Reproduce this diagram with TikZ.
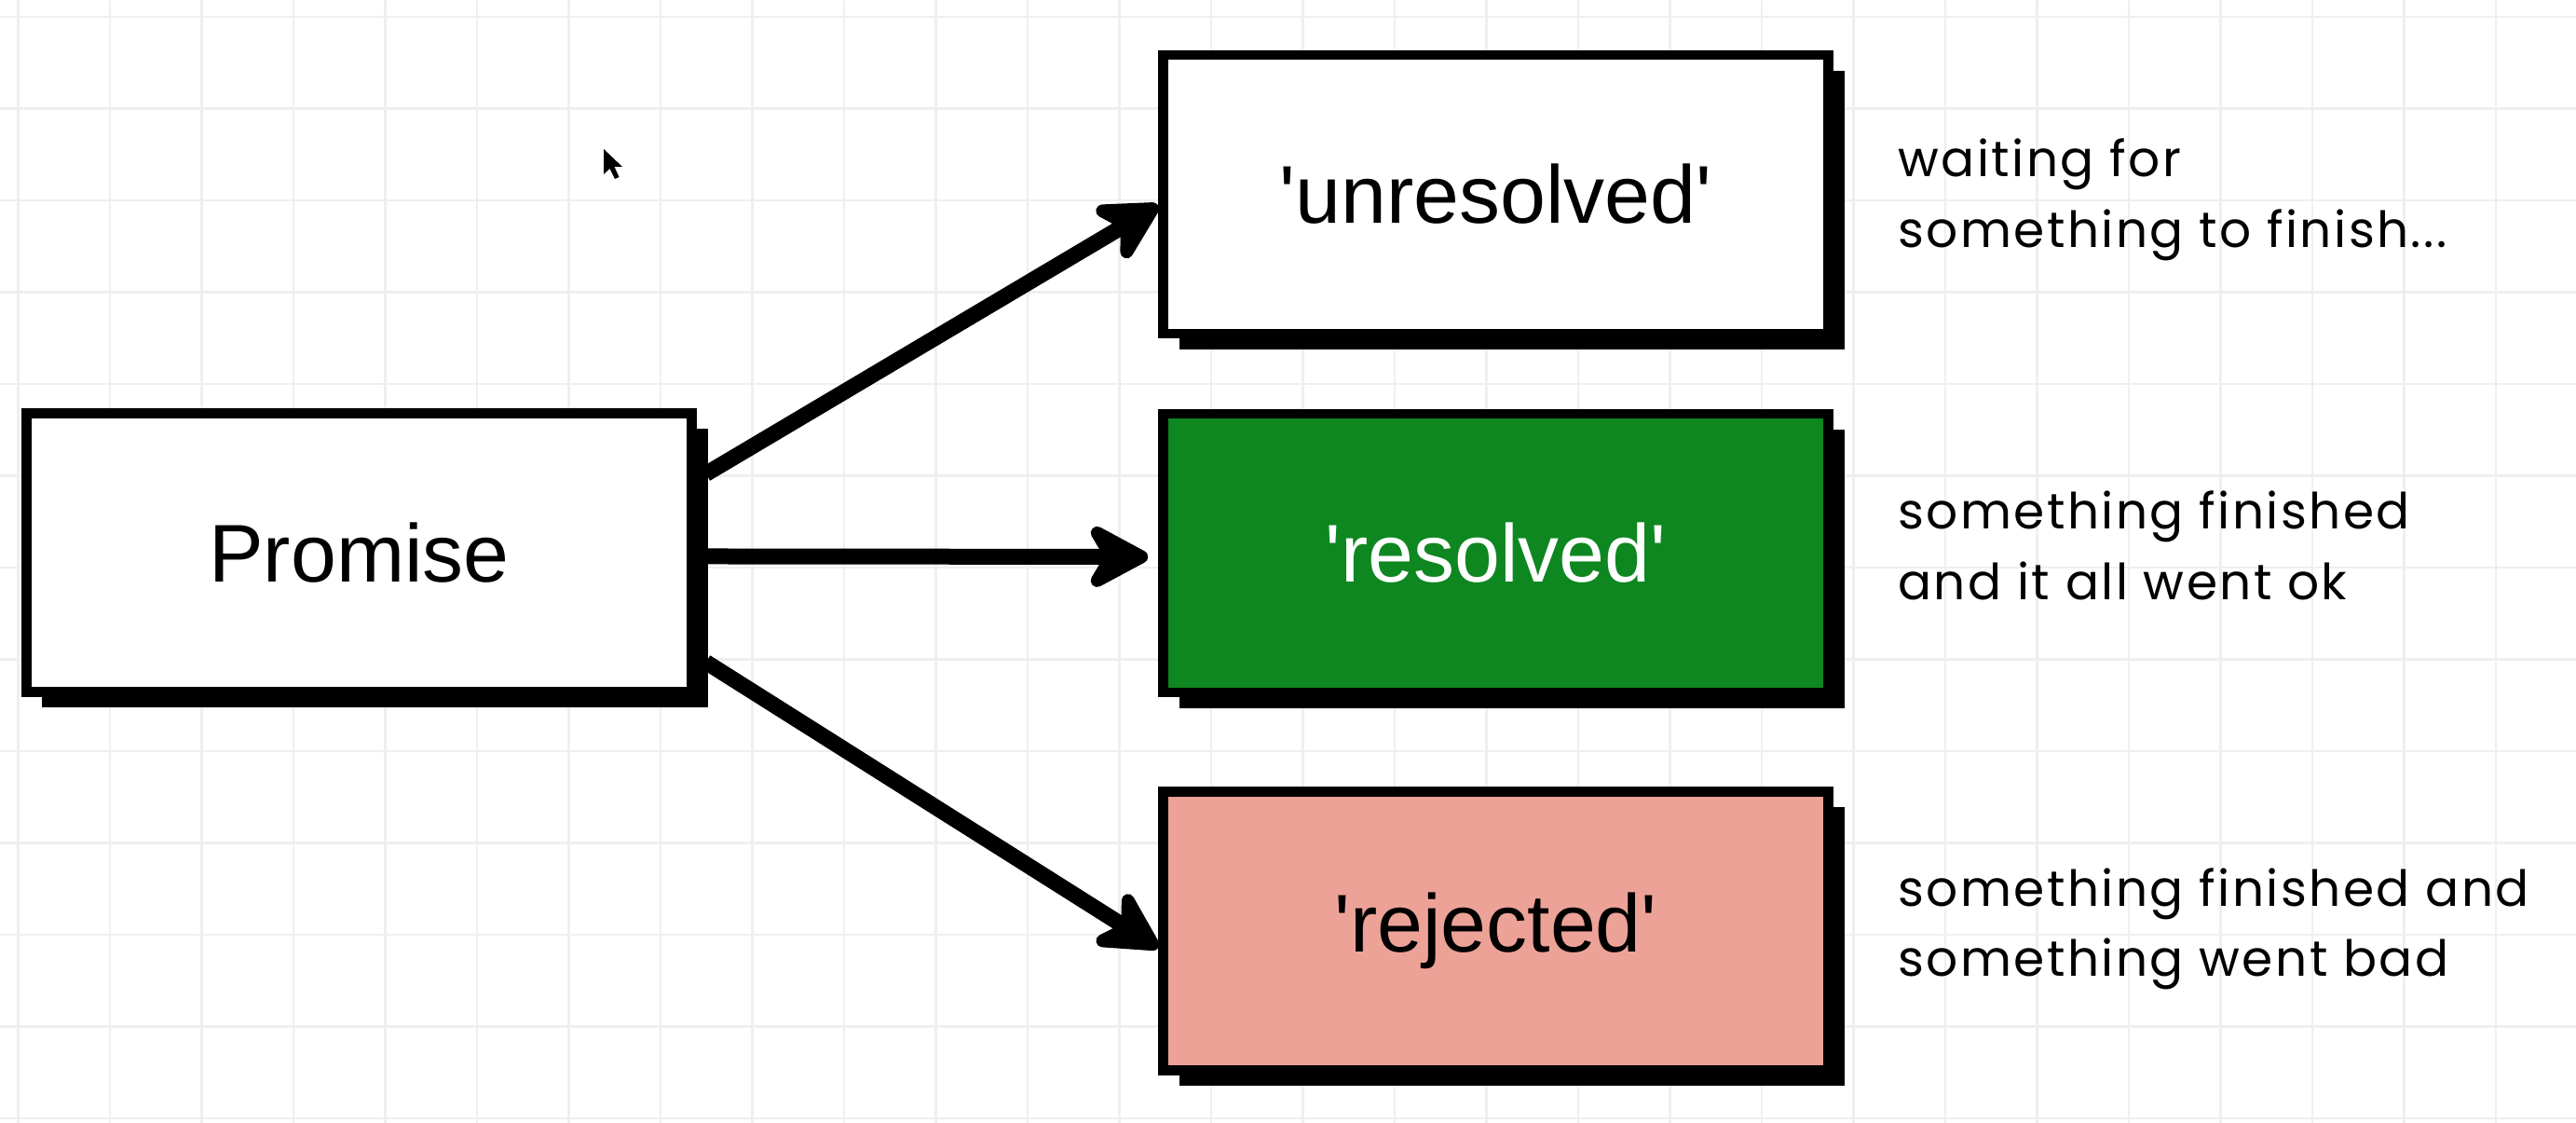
\documentclass[tikz,border=0pt]{standalone}
\usepackage{fontspec}
\setmainfont{Liberation Sans}
\newfontfamily\notefont[LetterSpace=4.5]{Poppins}
\usetikzlibrary{arrows.meta,positioning,calc,shadows}
\definecolor{gridgray}{HTML}{EFEFEF}
\definecolor{okgreen}{HTML}{0E8720}
\definecolor{badpink}{HTML}{EDA298}

\begin{document}
\begin{tikzpicture}[
    state/.style={draw, line width=3pt, fill=white, minimum width=7.14cm, minimum height=2.99cm,
      font=\fontsize{25}{30}\selectfont,
      drop shadow={shadow xshift=0.17cm, shadow yshift=-0.17cm, opacity=1, fill=black}},
    note/.style={inner sep=0pt, align=left, font=\notefont\fontsize{15.2}{21.5}\selectfont},
    flow/.style={line width=0.17cm, -{Stealth[length=8mm, width=8.5mm, inset=2.5mm, round]}},
    gridline/.style={draw=gridgray, line width=0.8pt}
  ]
  \useasboundingbox (0,0) rectangle (27.65,12.05);
  % Draw the background grid
  \foreach \k in {0,...,27}
    \draw[gridline] (0.195+0.985*\k,0) -- ++(0,12.05);
  \foreach \k in {0,...,12}
    \draw[gridline] (0,11.87-0.985*\k) -- ++(27.65,0);
  % Place the nodes
  \node[state] (promise) at (3.855,6.12) {Promise};
  \node[state] (unres) at (16.055,9.965) {\textquotesingle unresolved\textquotesingle};
  \node[state, fill=okgreen, text=white] (res) at (16.055,6.115) {\textquotesingle resolved\textquotesingle};
  \node[state, fill=badpink] (rej) at (16.055,2.06) {\textquotesingle rejected\textquotesingle};
  % Side notes
  \node[note, right=0.69cm of unres, yshift=-0.06cm] (unresnote) {waiting for\\something to finish...};
  \node[note, right=0.69cm of res, yshift=0.08cm] (resnote) {something finished\\and it all went ok};
  \node[note, right=0.69cm of rej, yshift=0.02cm] (rejnote) {something finished and\\something went bad};
  % Draw arrows Promise -> states
  \draw[flow] ($(promise.east)+(0.1,0.845)$) -- ([yshift=-0.12cm]unres.west);
  \draw[flow] ($(promise.east)+(0.1,-0.04)$) -- ([xshift=-0.11cm,yshift=-0.04cm]res.west);
  \draw[flow] ($(promise.east)+(0.1,-1.175)$) -- ([yshift=-0.18cm]rej.west);
  % Mouse pointer
  \fill (6.48,10.45) -- ++(0,-0.27) -- ++(0.065,0.06) -- ++(0.055,-0.11) -- ++(0.045,0.02)
    -- ++(-0.05,0.11) -- ++(0.085,0) -- cycle;
\end{tikzpicture}
\end{document}
